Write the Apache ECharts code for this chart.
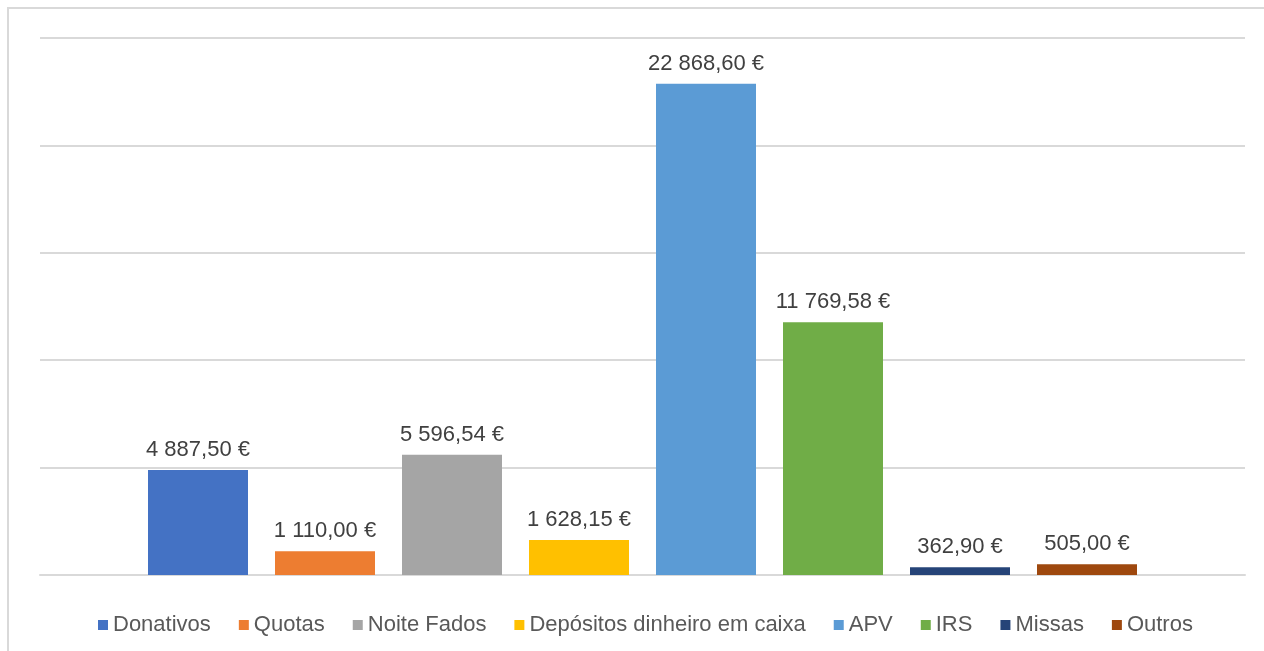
<!DOCTYPE html>
<html><head><meta charset="utf-8">
<script src="https://cdn.jsdelivr.net/npm/echarts@6/dist/echarts.min.js"></script>
<style>html,body{margin:0;padding:0;background:#fff}#c{width:1264px;height:651px}</style>
</head><body><div id="c"></div>
<script>
const seriesNames = ['Donativos','Quotas','Noite Fados','Depósitos dinheiro em caixa','APV','IRS','Missas','Outros'];
const seriesValues = [4887.50, 1110.00, 5596.54, 1628.15, 22868.60, 11769.58, 362.90, 505.00];
const seriesColors = ['#4472C4','#ED7D31','#A5A5A5','#FFC000','#5B9BD5','#70AD47','#264478','#9E480E'];
const categories = [''];

function fmt(v){
  const parts = v.toFixed(2).split('.');
  const intp = parts[0].replace(/\B(?=(\d{3})+(?!\d))/g, ' ');
  return intp + ',' + parts[1] + ' €';
}
const chart = echarts.init(document.getElementById('c'));
chart.setOption({
  animation:false,
  graphic:[{type:'rect',shape:{x:8,y:8,width:1300,height:700},style:{fill:'none',stroke:'#d9d9d9',lineWidth:2},silent:true}],
  grid:{left:40,right:19,top:38,bottom:76,containLabel:false},
  legend:{left:93,top:609,itemWidth:10,itemHeight:10,itemGap:28,icon:'rect',
    textStyle:{fontFamily:'Liberation Sans, Arial',fontSize:22,color:'#595959'},
    data:seriesNames},
  xAxis:{type:'category',data:categories,axisLabel:{show:false},axisTick:{show:false},
    axisLine:{show:true,lineStyle:{color:'#d9d9d9',width:2}}},
  yAxis:{type:'value',min:0,max:25000,interval:5000,axisLabel:{show:false},axisLine:{show:false},axisTick:{show:false},
    splitLine:{lineStyle:{color:'#d9d9d9',width:2}}},
  series: seriesNames.map((n,i)=>({
    name:n,type:'bar',data:[seriesValues[i]],barWidth:100,barGap:'27%',
    itemStyle:{color:seriesColors[i]},
    label:{show:true,position:'top',distance:9,formatter:p=>fmt(p.value),
      fontFamily:'Liberation Sans, Arial',fontSize:22,color:'#404040'}
  }))
});
</script></body></html>
